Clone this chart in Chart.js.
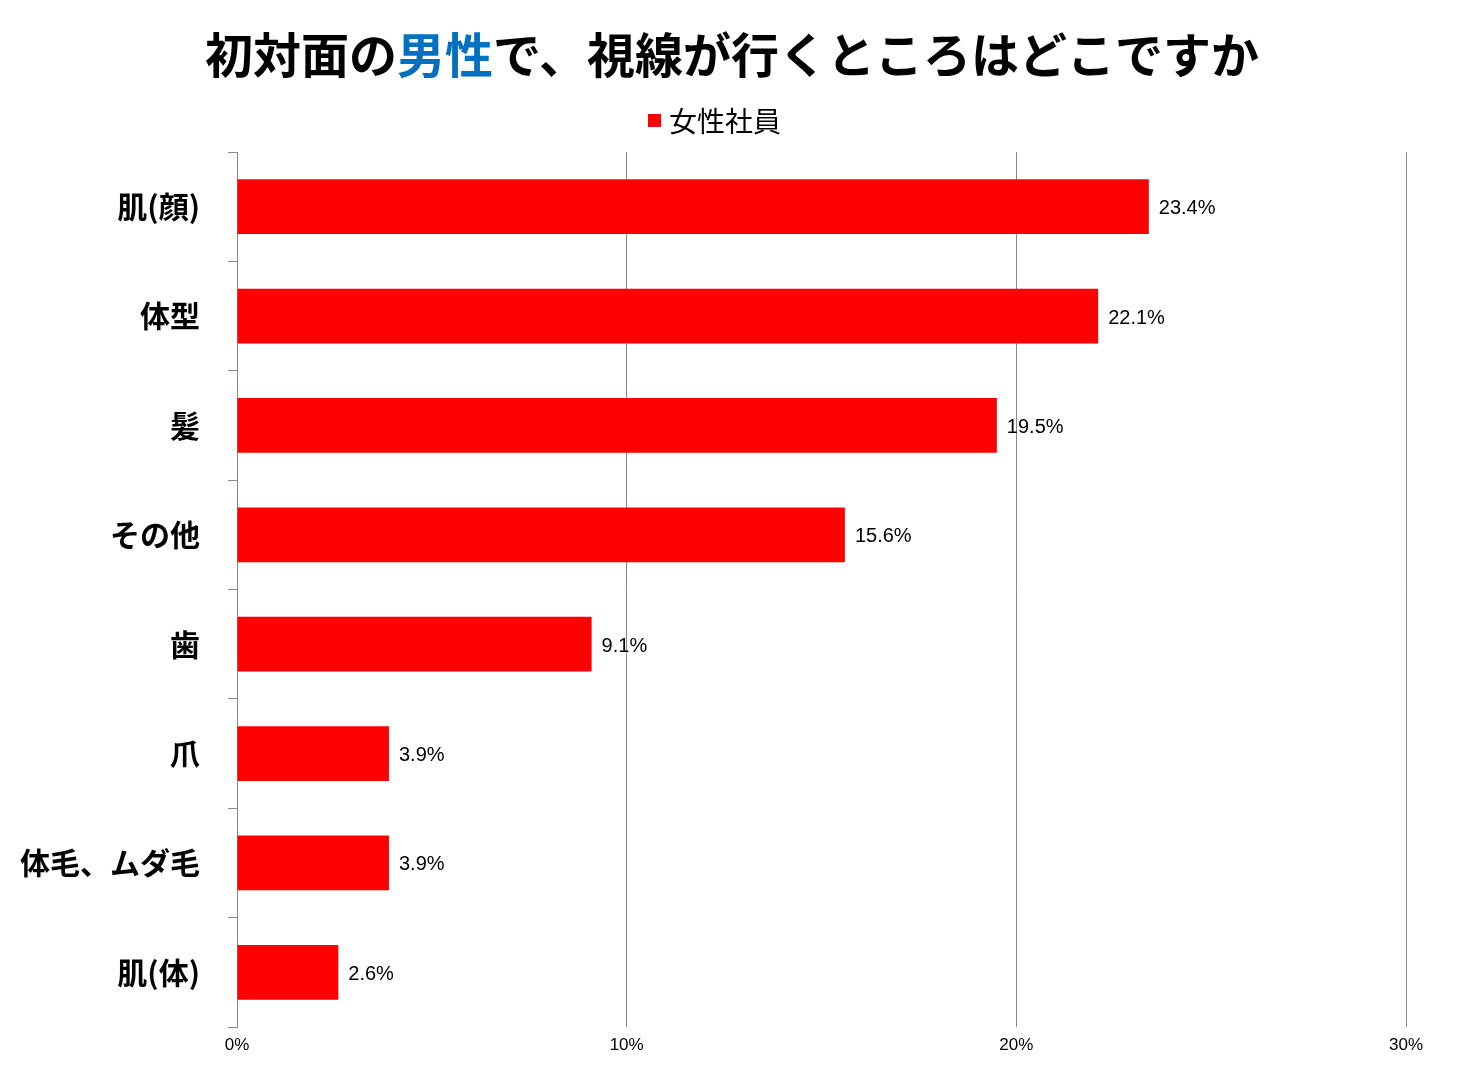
<!DOCTYPE html>
<html><head><meta charset="utf-8">
<script src="https://cdn.jsdelivr.net/npm/chart.js@4/dist/chart.umd.min.js"></script>
<style>html,body{margin:0;padding:0;background:#fff}#w{width:1464px;height:1087px}</style>
</head><body><div id="w"><canvas id="c"></canvas></div>
<script>
const categories=["肌(顔)","体型","髪","その他","歯","爪","体毛、ムダ毛","肌(体)"];
const values=[23.4,22.1,19.5,15.6,9.1,3.9,3.9,2.6];
const seriesName="女性社員";
const xTicks=[0,10,20,30];
const titleParts=[["初対面の","#000"],["男性","#0070C0"],["で、視線が行くところはどこですか","#000"]];
const JP='"Noto Sans CJK JP",sans-serif';
const deco={id:'deco',afterDraw(ch){const x=ch.ctx;x.save();
 x.font='bold 48px '+JP;x.textBaseline='middle';
 let tot=titleParts.reduce((s,p)=>s+x.measureText(p[0]).width,0);let px=732-tot/2;
 for(const [t,c] of titleParts){x.fillStyle=c;x.textAlign='left';x.fillText(t,px,55);px+=x.measureText(t).width;}
 x.font='28px '+JP;x.fillStyle='#FF0000';x.fillRect(648,114,13,13);x.fillStyle='#000';x.fillText(seriesName,669,121);
 const m=ch.getDatasetMeta(0);x.font='20px "Liberation Sans Narrow","Liberation Sans",sans-serif';x.textBaseline='middle';
 m.data.forEach((b,i)=>{x.fillText(values[i].toFixed(1)+'%',b.x+10,b.y+2);});
 x.restore();}};
new Chart(document.getElementById('c'),{type:'bar',
data:{labels:categories,datasets:[{label:seriesName,data:values,backgroundColor:'#FF0000',categoryPercentage:0.5,barPercentage:1}]},
options:{indexAxis:'y',responsive:true,maintainAspectRatio:false,animation:false,
layout:{padding:{top:152,right:58,left:0,bottom:0}},
plugins:{legend:{display:false},title:{display:false},tooltip:{enabled:false}},
scales:{x:{min:0,max:30,afterBuildTicks(s){s.ticks=xTicks.map(v=>({value:v}));},afterFit(s){s.height=60;},
 ticks:{callback:v=>v+'%',color:'#000',font:{size:17,family:'"Liberation Sans Narrow","Liberation Sans",sans-serif'},padding:8},
 grid:{color:'#888',lineWidth:1,drawTicks:false},border:{display:false}},
 y:{afterFit(s){s.width=237;},grid:{offset:true,drawOnChartArea:false,tickLength:9,color:'#888'},border:{color:'#888'},
 ticks:{color:'#000',font:{size:30,weight:'bold',family:JP},padding:28}}}},
plugins:[deco]});
</script></body></html>
